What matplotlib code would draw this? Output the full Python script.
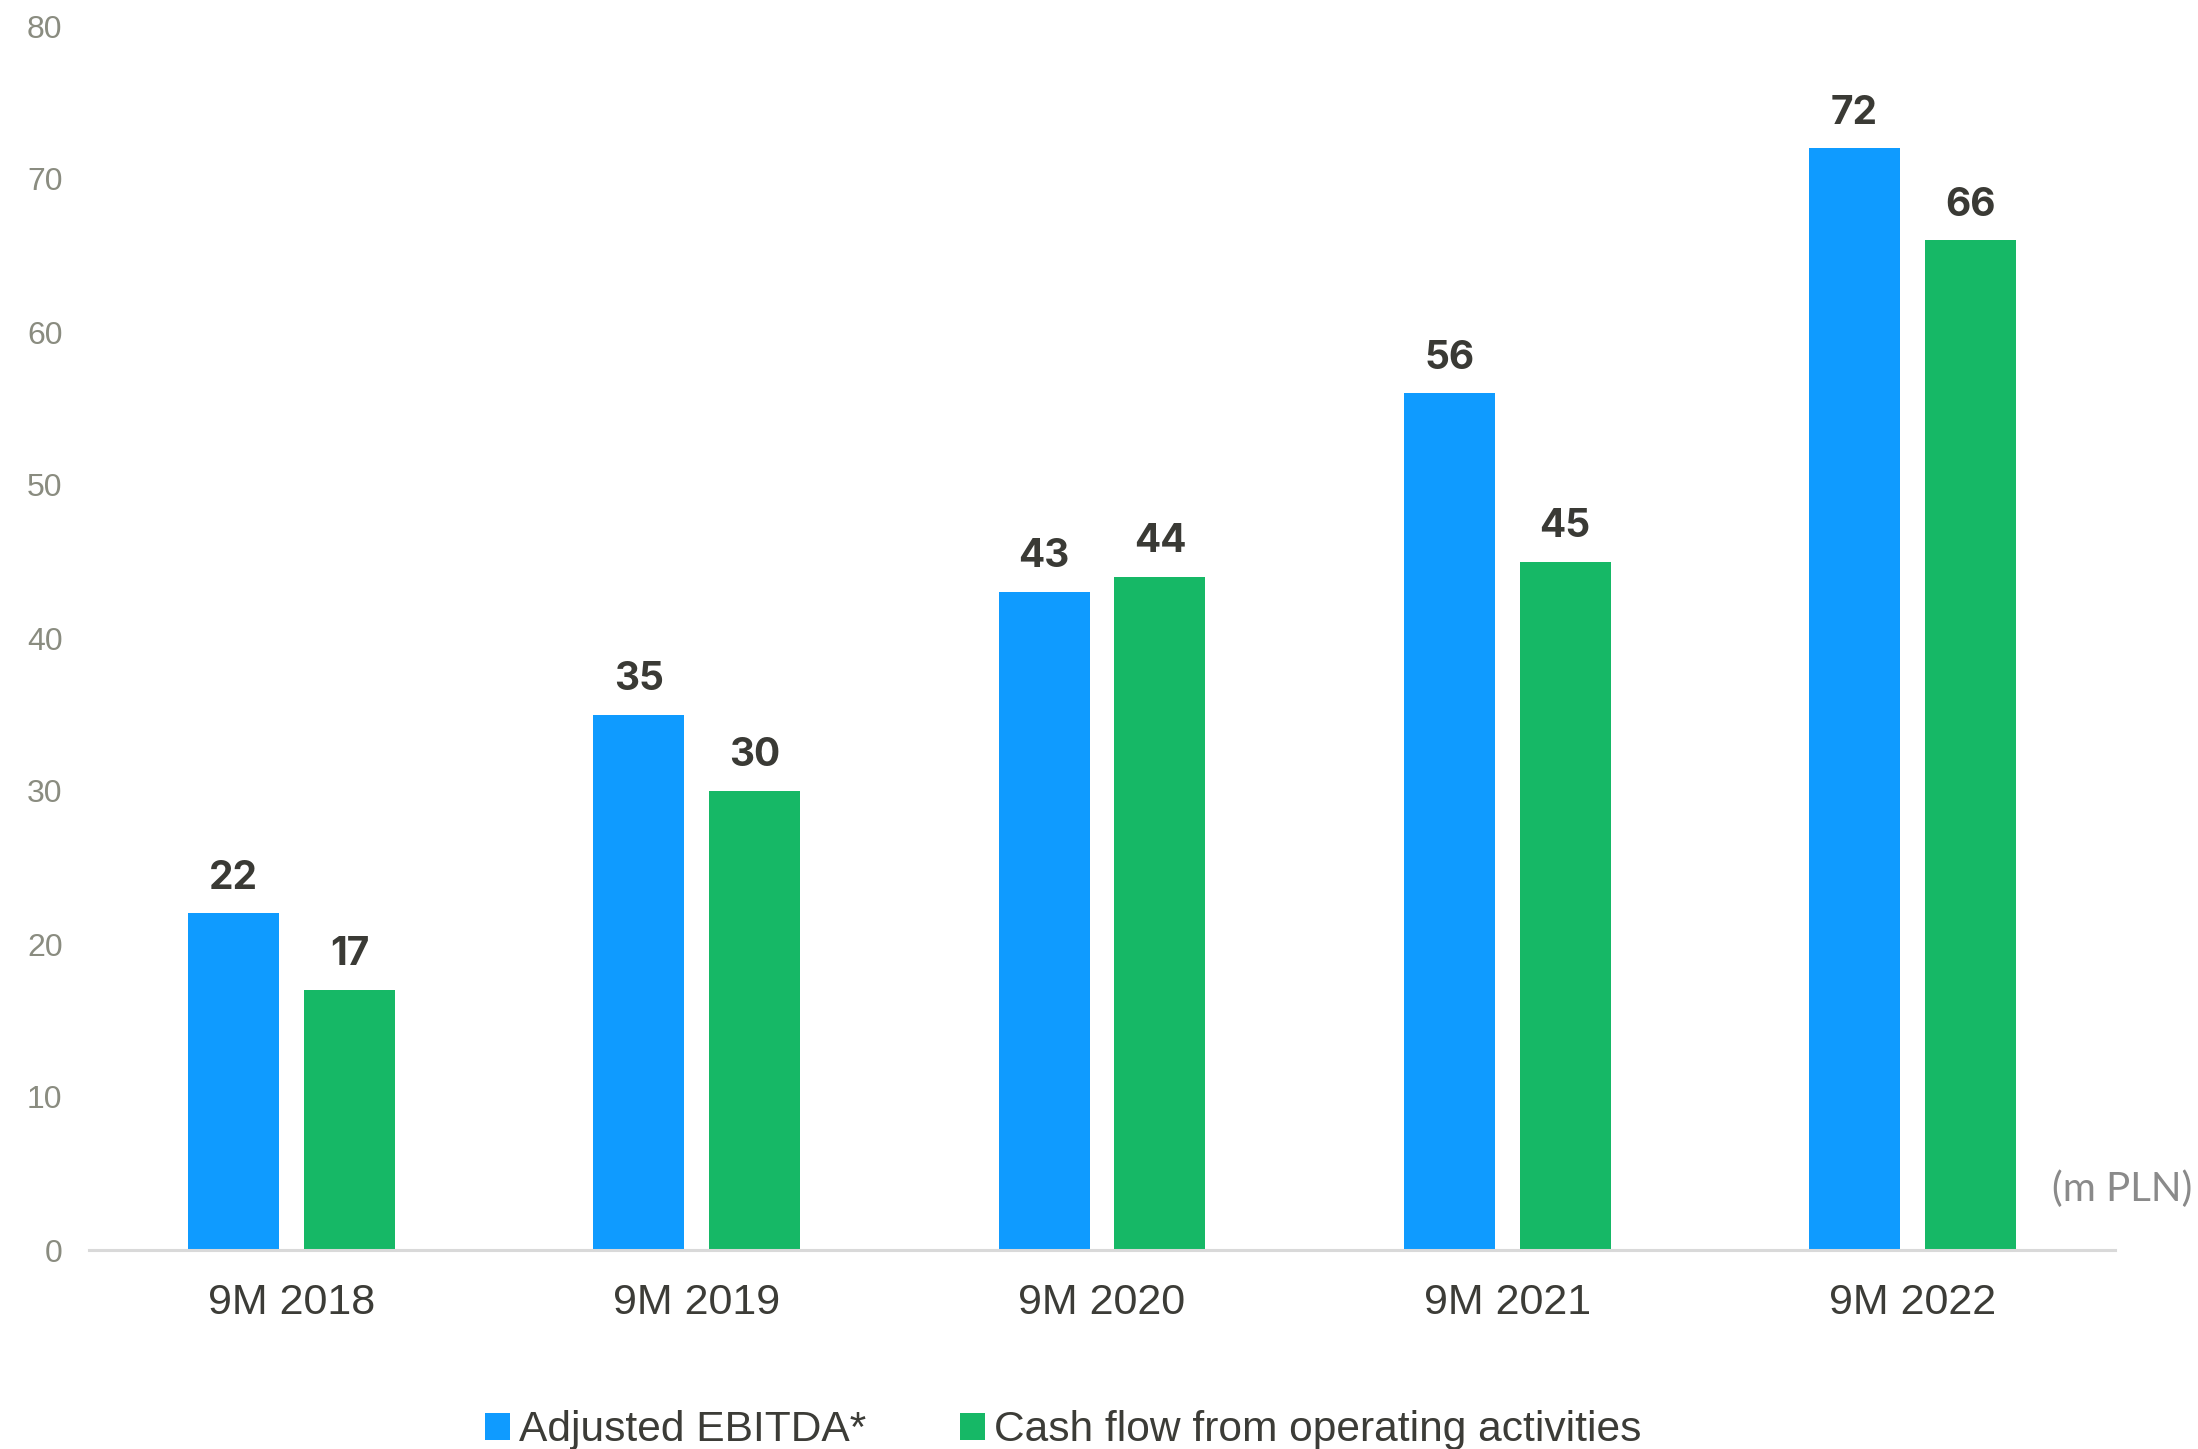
import numpy as np
import matplotlib.pyplot as plt

periods = ["9M 2018", "9M 2019", "9M 2020", "9M 2021", "9M 2022"]
ebitda = [22, 35, 43, 56, 72]
cash_flow = [17, 30, 44, 45, 66]
series_names = ["Adjusted EBITDA*", "Cash flow from operating activities"]
y_ticks = [0, 10, 20, 30, 40, 50, 60, 70, 80]

blue = "#0f9bff"
green = "#16b866"

fig = plt.figure(figsize=(21.98, 14.49), dpi=100)
ax = fig.add_axes([89 / 2198, 199 / 1449, 2026 / 2198, 1224 / 1449])

x = np.arange(len(periods))
w = 0.2245
off = 0.143

b1 = ax.bar(x - off, ebitda, w, color=blue, label=series_names[0])
b2 = ax.bar(x + off, cash_flow, w, color=green, label=series_names[1])

# value labels above the bars
for bars, vals in ((b1, ebitda), (b2, cash_flow)):
    for r, v in zip(bars, vals):
        ax.annotate(str(v), (r.get_x() + r.get_width() / 2, v),
                    xytext=(0, 12), textcoords="offset points",
                    ha="center", va="bottom", fontsize=28,
                    fontweight="bold", family="Inter", color="#3a3a35")

ax.set_xlim(-0.5, len(periods) - 0.5)
ax.set_ylim(0, 80)
ax.set_yticks(y_ticks)
ax.set_yticklabels([str(t) for t in y_ticks], family="Liberation Sans",
                   fontsize=23, color="#8a8c80")
ax.set_xticks(x)
ax.set_xticklabels(periods, family="Liberation Sans", fontsize=31,
                   color="#3c3c37")
ax.tick_params(axis="y", length=0, pad=19)
ax.tick_params(axis="x", length=0, pad=24)

for s in ("top", "right", "left"):
    ax.spines[s].set_visible(False)
ax.spines["bottom"].set_color("#d9d9d9")
ax.spines["bottom"].set_linewidth(2.2)

fig.text(2192 / 2198, 0.179, "(m PLN)", ha="right", va="center",
         fontsize=29, family="Lato", color="#8a8a8a")

fig.legend(handles=[b1, b2], loc="center", bbox_to_anchor=(1063 / 2198, 0.013),
           ncol=2, frameon=False, handlelength=0.6, handleheight=0.6,
           handletextpad=0.2, columnspacing=2.2,
           prop={"family": "Liberation Sans", "size": 30.6})
for t in fig.legends[0].get_texts():
    t.set_color("#3c3c37")

fig.savefig("out.png", dpi=100)
